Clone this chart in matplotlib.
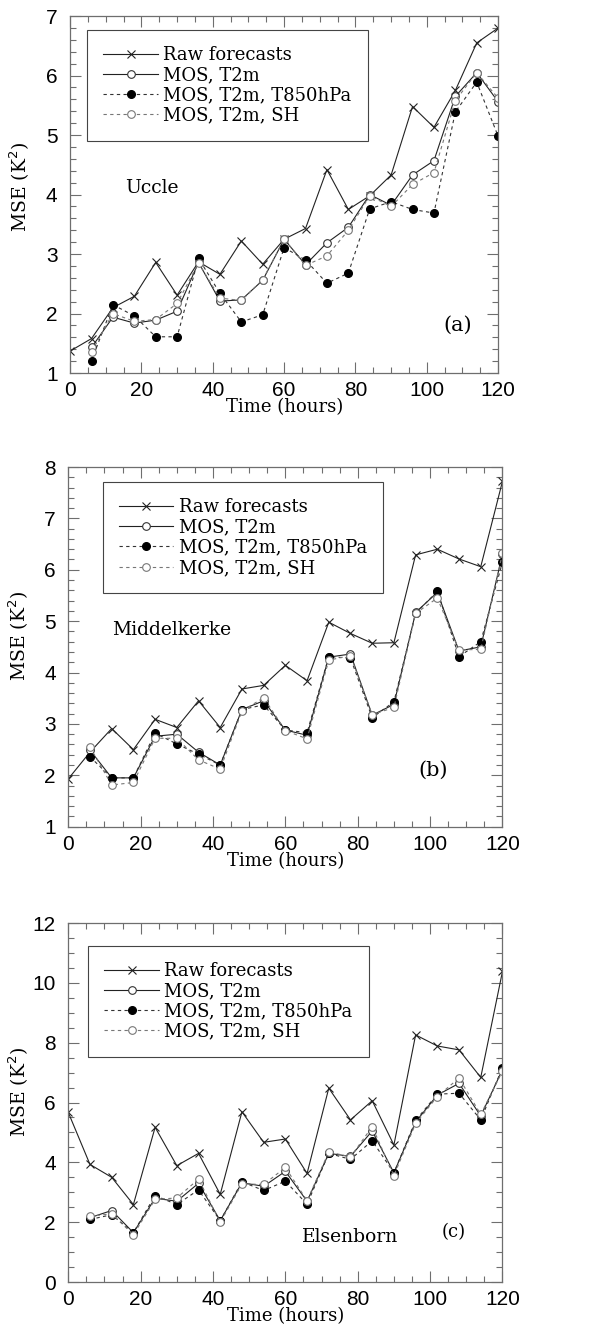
import numpy as np
import matplotlib
matplotlib.use("Agg")
import matplotlib.pyplot as plt
from matplotlib.ticker import MultipleLocator

# lead times (hours)
hours = np.arange(0, 121, 6)
mos_hours = hours[1:]

labels = ["Raw forecasts", "MOS, T2m", "MOS, T2m, T850hPa", "MOS, T2m, SH"]

# (a) Uccle
uccle_raw = [1.37, 1.58, 2.10, 2.29, 2.86, 2.31, 2.87, 2.66, 3.22, 2.83, 3.25,
             3.43, 4.42, 3.75, 3.98, 4.33, 5.48, 5.13, 5.75, 6.55, 6.80]
uccle_t2m = [1.43, 1.94, 1.84, 1.89, 2.04, 2.86, 2.21, 2.23, 2.56, 3.25,
             2.82, 3.19, 3.45, 4.00, 3.82, 4.33, 4.57, 5.65, 6.05, 5.56]
uccle_t850 = [1.21, 2.15, 1.96, 1.61, 1.61, 2.93, 2.34, 1.86, 1.98, 3.11,
              2.90, 2.51, 2.68, 3.76, 3.88, 3.75, 3.69, 5.39, 5.89, 4.98]
uccle_sh = [1.36, 2.00, 1.87, 1.90, 2.17, 2.85, 2.26, 2.22, 2.57, 3.25,
            2.81, 2.97, 3.40, 3.98, 3.80, 4.17, 4.37, 5.58, 6.05, 5.62]

# (b) Middelkerke
middel_raw = [1.93, 2.45, 2.91, 2.50, 3.09, 2.93, 3.45, 2.93, 3.68, 3.75, 4.14,
              3.84, 4.98, 4.76, 4.57, 4.58, 6.29, 6.40, 6.21, 6.06, 7.72]
middel_t2m = [2.49, 1.95, 1.95, 2.76, 2.80, 2.45, 2.20, 3.28, 3.45, 2.88,
              2.78, 4.30, 4.36, 3.17, 3.38, 5.17, 5.56, 4.42, 4.50, 6.30]
middel_t850 = [2.36, 1.95, 1.95, 2.82, 2.61, 2.41, 2.20, 3.28, 3.37, 2.88,
               2.83, 4.31, 4.28, 3.12, 3.43, 5.15, 5.58, 4.31, 4.60, 6.15]
middel_sh = [2.55, 1.81, 1.86, 2.72, 2.72, 2.30, 2.12, 3.25, 3.51, 2.87,
             2.71, 4.24, 4.33, 3.18, 3.32, 5.15, 5.45, 4.44, 4.45, 6.32]

# (c) Elsenborn
elsen_raw = [5.67, 3.93, 3.50, 2.59, 5.17, 3.89, 4.30, 2.93, 5.69, 4.67, 4.78,
             3.63, 6.48, 5.42, 6.06, 4.58, 8.26, 7.89, 7.76, 6.84, 10.38]
elsen_t2m = [2.15, 2.39, 1.65, 2.80, 2.70, 3.30, 2.05, 3.32, 3.20, 3.70,
             2.70, 4.30, 4.20, 5.05, 3.65, 5.35, 6.25, 6.64, 5.55, 7.10]
elsen_t850 = [2.09, 2.25, 1.65, 2.89, 2.59, 3.08, 2.05, 3.35, 3.06, 3.37,
              2.60, 4.30, 4.10, 4.72, 3.65, 5.40, 6.28, 6.31, 5.42, 7.17]
elsen_sh = [2.20, 2.28, 1.58, 2.76, 2.81, 3.44, 2.00, 3.28, 3.26, 3.83,
            2.72, 4.35, 4.18, 5.19, 3.56, 5.30, 6.20, 6.82, 5.60, 7.05]

serif = "DejaVu Serif"
sans = "Liberation Sans"
axis_grey = "#6e6e6e"

panels = [
    dict(raw=uccle_raw, t2m=uccle_t2m, t850=uccle_t850, sh=uccle_sh,
         rect=[0.114, 0.722, 0.696, 0.266], ylim=(1, 7), yminor=0.2,
         name="Uccle", name_xy=(0.128, 0.518), tag="(a)", tag_xy=(0.905, 0.134),
         tag_size=15, leg_xy=(0.04, 0.962), ylab_xy=(-0.09, 0.52)),
    dict(raw=middel_raw, t2m=middel_t2m, t850=middel_t850, sh=middel_sh,
         rect=[0.111, 0.384, 0.706, 0.268], ylim=(1, 8), yminor=0.2,
         name="Middelkerke", name_xy=(0.10, 0.547), tag="(b)", tag_xy=(0.84, 0.158),
         tag_size=15, leg_xy=(0.08, 0.958), ylab_xy=(-0.086, 0.53)),
    dict(raw=elsen_raw, t2m=elsen_t2m, t850=elsen_t850, sh=elsen_sh,
         rect=[0.111, 0.0447, 0.706, 0.2675], ylim=(0, 12), yminor=0.5,
         name="Elsenborn", name_xy=(0.539, 0.125), tag="(c)", tag_xy=(0.888, 0.139),
         tag_size=13, leg_xy=(0.046, 0.936), ylab_xy=(-0.086, 0.53)),
]

fig = plt.figure(figsize=(6.15, 13.42), dpi=100)

for p in panels:
    ax = fig.add_axes(p["rect"])

    ax.plot(hours, p["raw"], color="#222222", lw=0.8, marker="x", ms=6,
            mew=0.8, label=labels[0])
    ax.plot(mos_hours, p["t2m"], color="#222222", lw=0.8, marker="o", ms=5.5,
            mfc="white", mec="#333333", mew=0.8, label=labels[1])
    ax.plot(mos_hours, p["t850"], color="#333333", lw=0.8, ls=(0, (3, 3)),
            marker="o", ms=5.5, mfc="black", mec="black", label=labels[2])
    ax.plot(mos_hours, p["sh"], color="#777777", lw=0.8, ls=(0, (3, 3)),
            marker="o", ms=5.5, mfc="white", mec="#777777", mew=0.8,
            label=labels[3])

    ax.set_xlim(0, 120)
    ax.set_ylim(*p["ylim"])
    ax.xaxis.set_major_locator(MultipleLocator(20))
    ax.xaxis.set_minor_locator(MultipleLocator(5))
    ax.yaxis.set_major_locator(MultipleLocator(1 if p["ylim"][1] < 10 else 2))
    ax.yaxis.set_minor_locator(MultipleLocator(p["yminor"]))

    ax.tick_params(which="both", direction="in", top=True, right=True,
                   color=axis_grey, width=0.8)
    ax.tick_params(which="major", length=8, labelsize=15)
    ax.tick_params(which="minor", length=4)
    ax.tick_params(axis="x", pad=6)
    ax.tick_params(axis="y", pad=9)
    for lbl in ax.get_xticklabels() + ax.get_yticklabels():
        lbl.set_family(sans)
    for s in ax.spines.values():
        s.set_color(axis_grey)
        s.set_linewidth(0.9)

    ax.set_xlabel("Time (hours)", family=serif, fontsize=13)
    ax.xaxis.set_label_coords(0.5, -0.07)
    ax.set_ylabel("MSE (K$^2$)", family=serif, fontsize=13.5)
    ax.yaxis.set_label_coords(*p["ylab_xy"])

    leg = ax.legend(loc="upper left", bbox_to_anchor=p["leg_xy"],
                    prop={"family": serif, "size": 13}, handlelength=3.0,
                    handletextpad=0.3, labelspacing=0.12, borderpad=0.9,
                    fancybox=False, framealpha=1, borderaxespad=0)
    leg.get_frame().set_edgecolor("#444444")
    leg.get_frame().set_linewidth(0.8)

    ax.text(*p["name_xy"], p["name"], transform=ax.transAxes, family=serif,
            fontsize=13.5, va="center", ha="left")
    ax.text(*p["tag_xy"], p["tag"], transform=ax.transAxes, family=serif,
            fontsize=p["tag_size"], va="center", ha="center")

fig.savefig("out.png", dpi=100)
